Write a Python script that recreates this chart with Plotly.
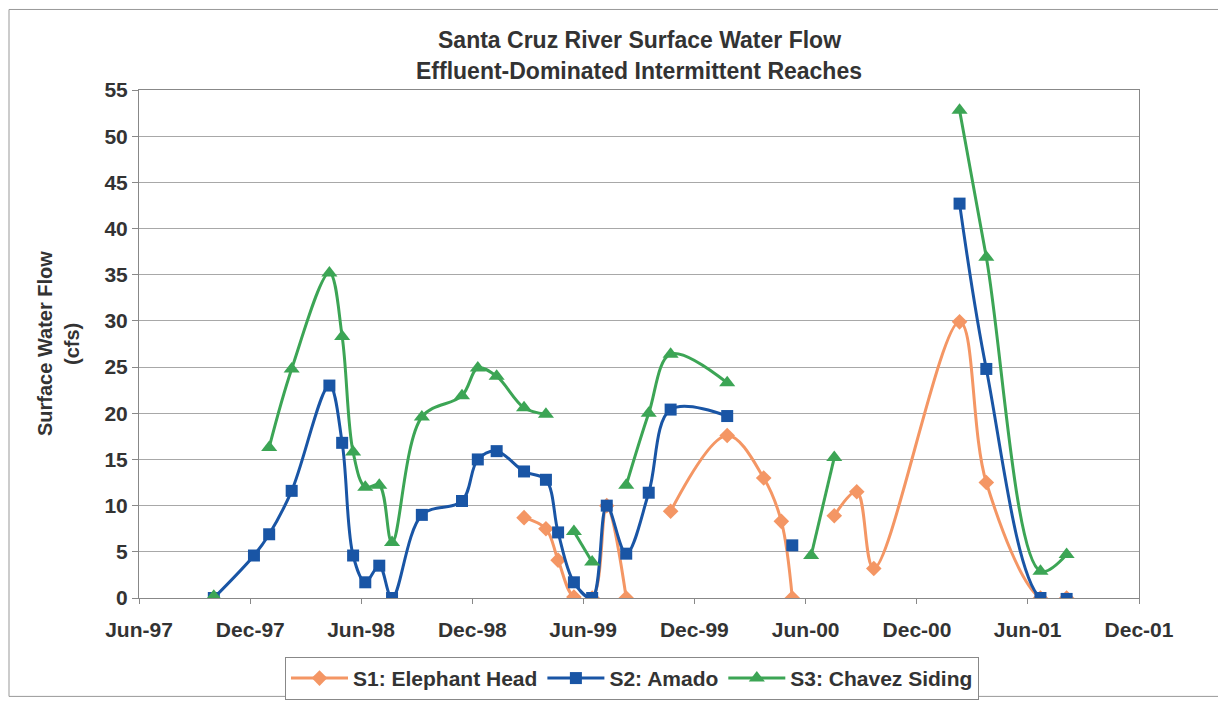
import plotly.graph_objects as go

# sampling dates (shared by the three stations, None = no measurement)
dates = [
    "1997-10-02", "1997-12-07", "1998-01-01", "1998-02-07", "1998-04-10",
    "1998-05-01", "1998-05-19", "1998-06-08", "1998-07-01", "1998-07-22",
    "1998-09-09", "1998-11-14", "1998-12-10", "1999-01-10", "1999-02-24",
    "1999-04-01", "1999-04-21", "1999-05-17", "1999-06-16", "1999-07-10",
    "1999-08-11", "1999-09-17", "1999-10-23", "2000-01-24", "2000-03-24",
    "2000-04-22", "2000-05-10", "2000-06-10", "2000-07-18", "2000-08-24",
    "2000-09-21", "2001-02-09", "2001-03-25", "2001-06-22", "2001-08-04",
]

s1_elephant_head = [
    None, None, None, None, None, None, None, None, None, None,
    None, None, None, None, 8.7, 7.5, 4.1, 0.1, 0.0, 10.0,
    0.0, None, 9.4, 17.6, 13.0, 8.3, 0.0, None, 8.9, 11.5,
    3.2, 29.9, 12.5, 0.0, 0.0,
]

s2_amado = [
    0.0, 4.6, 6.9, 11.6, 23.0, 16.8, 4.6, 1.7, 3.5, 0.0,
    9.0, 10.5, 15.0, 15.9, 13.7, 12.8, 7.1, 1.7, 0.0, 10.0,
    4.8, 11.4, 20.4, 19.7, None, None, 5.7, None, None, None,
    None, 42.7, 24.8, 0.0, -0.1,
]

s3_chavez_siding = [
    0.2, None, 16.3, 24.8, 35.2, 28.3, 15.8, 12.0, 12.2, 6.0,
    19.6, 21.9, 24.9, 24.0, 20.6, 19.9, None, 7.2, 3.9, None,
    12.2, 20.0, 26.4, 23.3, None, None, None, 4.6, 15.2, None,
    None, 52.8, 36.9, 2.9, 4.7,
]

tick_dates = ["1997-06-01", "1997-12-01", "1998-06-01", "1998-12-01", "1999-06-01",
              "1999-12-01", "2000-06-01", "2000-12-01", "2001-06-01", "2001-12-01"]
tick_labels = ["Jun-97", "Dec-97", "Jun-98", "Dec-98", "Jun-99",
               "Dec-99", "Jun-00", "Dec-00", "Jun-01", "Dec-01"]

font = "Liberation Sans, Arial, sans-serif"
txt = "#333333"

fig = go.Figure()
fig.add_trace(go.Scatter(
    name="S1: Elephant Head", x=dates, y=s1_elephant_head,
    mode="lines+markers", connectgaps=False,
    line=dict(color="#F49664", width=3, shape="spline", smoothing=1),
    marker=dict(symbol="diamond", size=12, color="#F49664"),
))
fig.add_trace(go.Scatter(
    name="S2: Amado", x=dates, y=s2_amado,
    mode="lines+markers", connectgaps=False,
    line=dict(color="#1955A5", width=3, shape="spline", smoothing=1),
    marker=dict(symbol="square", size=12, color="#1955A5"),
))
fig.add_trace(go.Scatter(
    name="S3: Chavez Siding", x=dates, y=s3_chavez_siding,
    mode="lines+markers", connectgaps=False,
    line=dict(color="#3CA555", width=3, shape="spline", smoothing=1),
    marker=dict(symbol="triangle-up", size=14, color="#3CA555"),
))

fig.update_layout(
    width=1226, height=704,
    margin=dict(l=131, r=95, t=82, b=111),
    paper_bgcolor="white", plot_bgcolor="white",
    font=dict(family=font, size=17, color=txt),
    showlegend=True,
    legend=dict(
        orientation="h", x=0.493, xanchor="center", y=-0.116, yanchor="top",
        bordercolor="#888888", borderwidth=1,
        font=dict(family=font, size=21, color=txt, weight="bold"),
        itemwidth=57, tracegroupgap=0,
    ),
)

fig.update_xaxes(
    type="date", range=["1997-06-01", "2001-12-01"],
    tickvals=tick_dates, ticktext=tick_labels,
    tickfont=dict(family=font, size=21, color=txt, weight="bold"),
    ticks="outside", ticklen=5, tickcolor="#888888", ticklabelstandoff=8,
    showgrid=False, showline=True, linecolor="#888888", linewidth=1, mirror=True,
    zeroline=False,
)
fig.update_yaxes(
    range=[0, 55], dtick=5,
    tickfont=dict(family=font, size=21, color=txt, weight="bold"),
    ticks="outside", ticklen=6, tickcolor="#888888",
    showgrid=True, gridcolor="#A8A8A8", gridwidth=1,
    showline=True, linecolor="#888888", linewidth=1, mirror=True,
    zeroline=False,
)

# chart title (two lines)
fig.add_annotation(text="<b>Santa Cruz River Surface Water Flow</b>",
                   xref="paper", yref="paper", x=0.5, y=1.098, showarrow=False,
                   font=dict(family=font, size=23, color=txt), yanchor="middle")
fig.add_annotation(text="<b>Effluent-Dominated Intermittent Reaches</b>",
                   xref="paper", yref="paper", x=0.5, y=1.037, showarrow=False,
                   font=dict(family=font, size=23, color=txt), yanchor="middle")

# y axis title
fig.add_annotation(text="<b>Surface Water Flow</b>", textangle=-90,
                   xref="paper", yref="paper", x=-0.094, y=0.5, showarrow=False,
                   xanchor="center", yanchor="middle",
                   font=dict(family=font, size=20, color=txt))
fig.add_annotation(text="<b>(cfs)</b>", textangle=-90,
                   xref="paper", yref="paper", x=-0.067, y=0.5, showarrow=False,
                   xanchor="center", yanchor="middle",
                   font=dict(family=font, size=20, color=txt))

# outer chart border
fig.add_shape(type="rect", xref="paper", yref="paper",
              x0=-0.130, x1=1.083, y0=-0.1937, y1=1.1585,
              line=dict(color="#999999", width=1))

fig.write_html("out.html")
